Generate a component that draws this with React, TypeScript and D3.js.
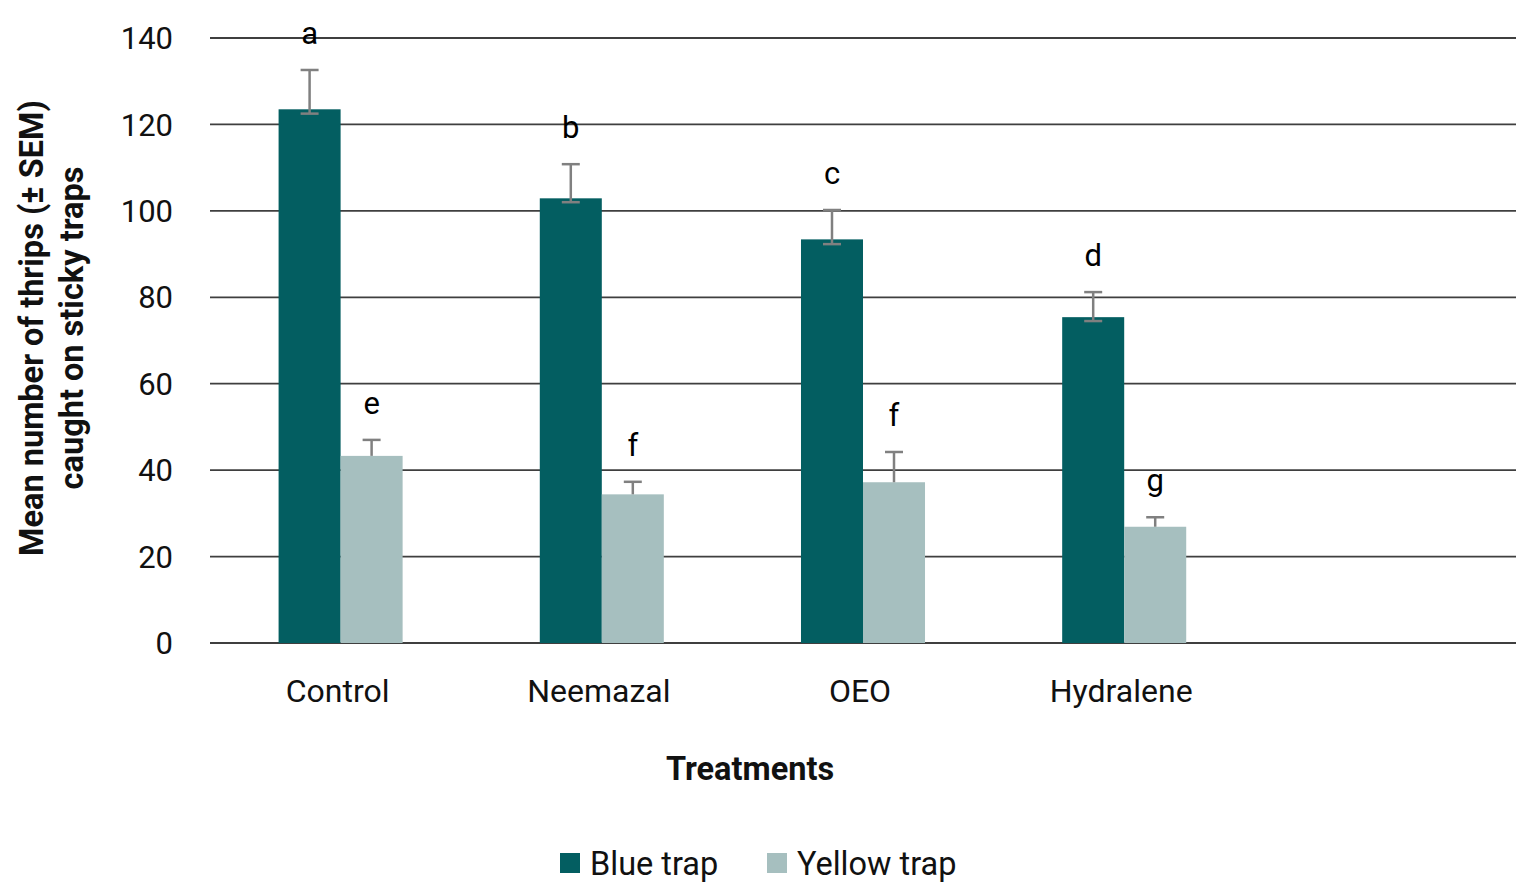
import React from 'react';
import { scaleBand, scaleLinear } from 'd3';

const categories = ['Control', 'Neemazal', 'OEO', 'Hydralene', ''];
const seriesNames = ['Blue trap', 'Yellow trap'];
const seriesColors = ['#035E61', '#A6BFBF'];

const blueValues = [123.5, 102.9, 93.4, 75.4];
const blueErrUp = [9.1, 7.9, 6.8, 5.8];
const blueErrDown = [1.0, 0.9, 1.1, 0.9];
const blueLetters = ['a', 'b', 'c', 'd'];

const yellowValues = [43.3, 34.4, 37.2, 26.9];
const yellowErrUp = [3.7, 2.9, 7.0, 2.2];
const yellowErrDown = [0, 0, 0, 0];
const yellowLetters = ['e', 'f', 'f', 'g'];

const yTicks = [0, 20, 40, 60, 80, 100, 120, 140];

const W = 1522;
const H = 890;
const FONT = 'Roboto, "Noto Sans", sans-serif';

const App = () => {
  // scales
  const x0 = scaleBand<string>().domain(categories).range([210, 1516]).padding(0);
  const x1 = scaleBand<string>()
    .domain(seriesNames)
    .range([0, x0.bandwidth()])
    .paddingInner(0)
    .paddingOuter(1.106);
  const y = scaleLinear().domain([0, 140]).range([643, 38]);

  const series = [
    { name: seriesNames[0], values: blueValues, up: blueErrUp, down: blueErrDown, letters: blueLetters, color: seriesColors[0] },
    { name: seriesNames[1], values: yellowValues, up: yellowErrUp, down: yellowErrDown, letters: yellowLetters, color: seriesColors[1] },
  ];

  return (
    <svg width={W} height={H} style={{ position: 'absolute', left: 0, top: 0, background: '#fff' }} fontFamily={FONT}>
      {/* gridlines */}
      {yTicks.map((t) => (
        <line key={t} x1={210} x2={1516} y1={y(t)} y2={y(t)} stroke="#3f3f3f" strokeWidth={1.8} />
      ))}
      {/* tick labels */}
      {yTicks.map((t) => (
        <text key={'l' + t} x={173} y={y(t)} dy="0.36em" textAnchor="end" fontSize={31} fill="#111">
          {t}
        </text>
      ))}

      {/* bars */}
      {series.map((s) =>
        s.values.map((v, i) => {
          const bx = (x0(categories[i]) as number) + (x1(s.name) as number);
          return (
            <rect key={s.name + i} x={bx} y={y(v)} width={x1.bandwidth()} height={y(0) - y(v)} fill={s.color} />
          );
        })
      )}

      {/* error bars and letters */}
      {series.map((s) =>
        s.values.map((v, i) => {
          const cx = (x0(categories[i]) as number) + (x1(s.name) as number) + x1.bandwidth() / 2;
          const top = y(v + s.up[i]);
          const bot = y(v - s.down[i]);
          return (
            <g key={'e' + s.name + i}>
              <line x1={cx} x2={cx} y1={top} y2={bot} stroke="#808080" strokeWidth={2.5} />
              <line x1={cx - 9} x2={cx + 9} y1={top} y2={top} stroke="#808080" strokeWidth={2.5} />
              {s.down[i] > 0 && (
                <line x1={cx - 9} x2={cx + 9} y1={bot} y2={bot} stroke="#808080" strokeWidth={2.5} />
              )}
              <text x={cx} y={top - 26} textAnchor="middle" fontSize={31} fill="#000">
                {s.letters[i]}
              </text>
            </g>
          );
        })
      )}

      {/* category labels */}
      {categories.map((c) => (
        <text key={'c' + c} x={(x0(c) as number) + x0.bandwidth() / 2 - 3} y={702} textAnchor="middle" fontSize={32} fill="#111">
          {c}
        </text>
      ))}

      {/* axis titles */}
      <text x={750} y={780} textAnchor="middle" fontSize={32.5} fontWeight="bold" fill="#111">
        Treatments
      </text>
      <text transform="translate(43,328) rotate(-90)" textAnchor="middle" fontSize={32.5} fontWeight="bold" fill="#111">
        <tspan x={0} dy={0}>Mean number of thrips (± SEM)</tspan>
        <tspan x={0} dy={40}>caught on sticky traps</tspan>
      </text>

      {/* legend */}
      {seriesNames.map((n, i) => {
        const lx = i === 0 ? 560 : 767;
        return (
          <g key={'lg' + n}>
            <rect x={lx} y={853} width={20} height={20} fill={seriesColors[i]} />
            <text x={lx + 30} y={875} fontSize={32.5} fill="#111">
              {n}
            </text>
          </g>
        );
      })}
    </svg>
  );
};

export default App;
